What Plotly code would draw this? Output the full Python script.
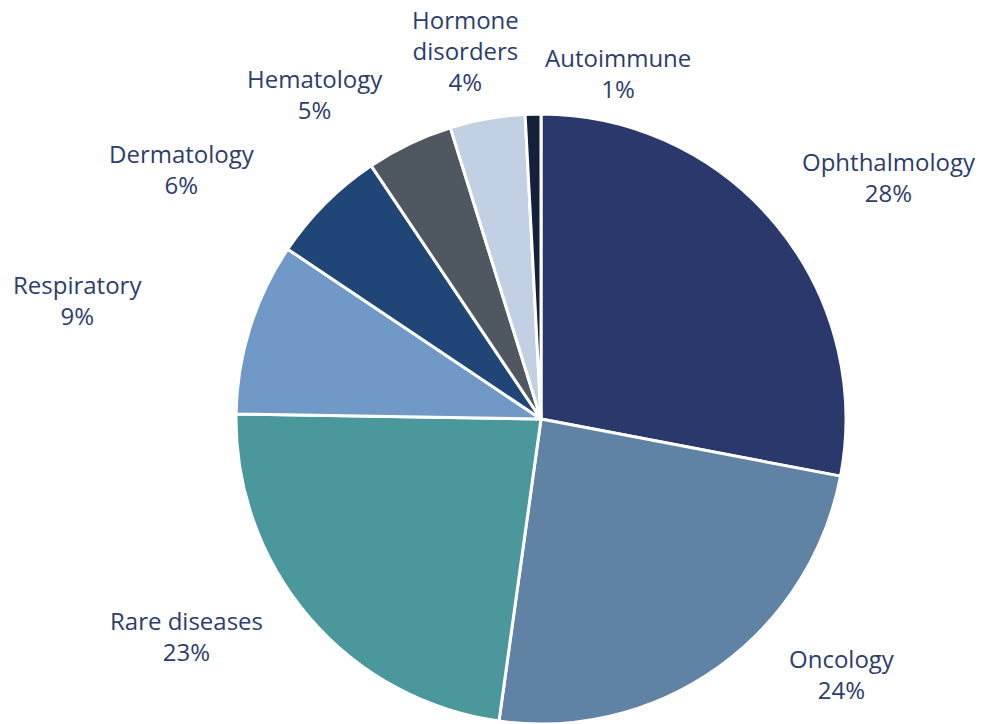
import plotly.graph_objects as go

labels = ["Ophthalmology", "Oncology", "Rare diseases", "Respiratory", "Dermatology",
          "Hematology", "Hormone<br>disorders", "Autoimmune"]
values = [28.0, 24.2, 23.06, 9.14, 6.2, 4.6, 3.97, 0.83]
colors = ["#2a386b", "#6082a5", "#4a979c", "#7099c7", "#1f4677",
          "#4f5760", "#c1d0e2", "#15203c"]

W, H = 981, 724
# label text-block centres in pixels (layout only)
label_pos = [(889, 177), (842, 674), (186, 636), (77, 300), (182, 169),
             (315, 94), (465, 51), (618, 73)]

total = sum(values)

fig = go.Figure(go.Pie(
    labels=labels,
    values=values,
    textinfo="none",
    sort=False,
    direction="clockwise",
    rotation=0,
    marker=dict(colors=colors, line=dict(color="white", width=3)),
    domain=dict(x=[235 / W, 847 / W], y=[0.0, (H - 114) / H]),
    showlegend=False,
    hoverinfo="label+percent",
))

annotations = []
for lab, v, (px, py) in zip(labels, values, label_pos):
    pct = round(v / total * 100)
    annotations.append(dict(
        text=f"{lab}<br>{pct}%",
        x=px / W, y=1 - py / H, xref="paper", yref="paper",
        xanchor="center", yanchor="middle", showarrow=False,
        font=dict(family="Open Sans", size=24, color="#2e3d6b"),
        align="center",
    ))

fig.update_layout(
    width=W, height=H,
    margin=dict(l=0, r=0, t=0, b=0),
    paper_bgcolor="white",
    plot_bgcolor="white",
    font=dict(family="Open Sans", size=24, color="#2e3d6b"),
    annotations=annotations,
)

fig.write_html("out.html", config={"displayModeBar": False},
               post_script="document.body.style.margin='0';")
